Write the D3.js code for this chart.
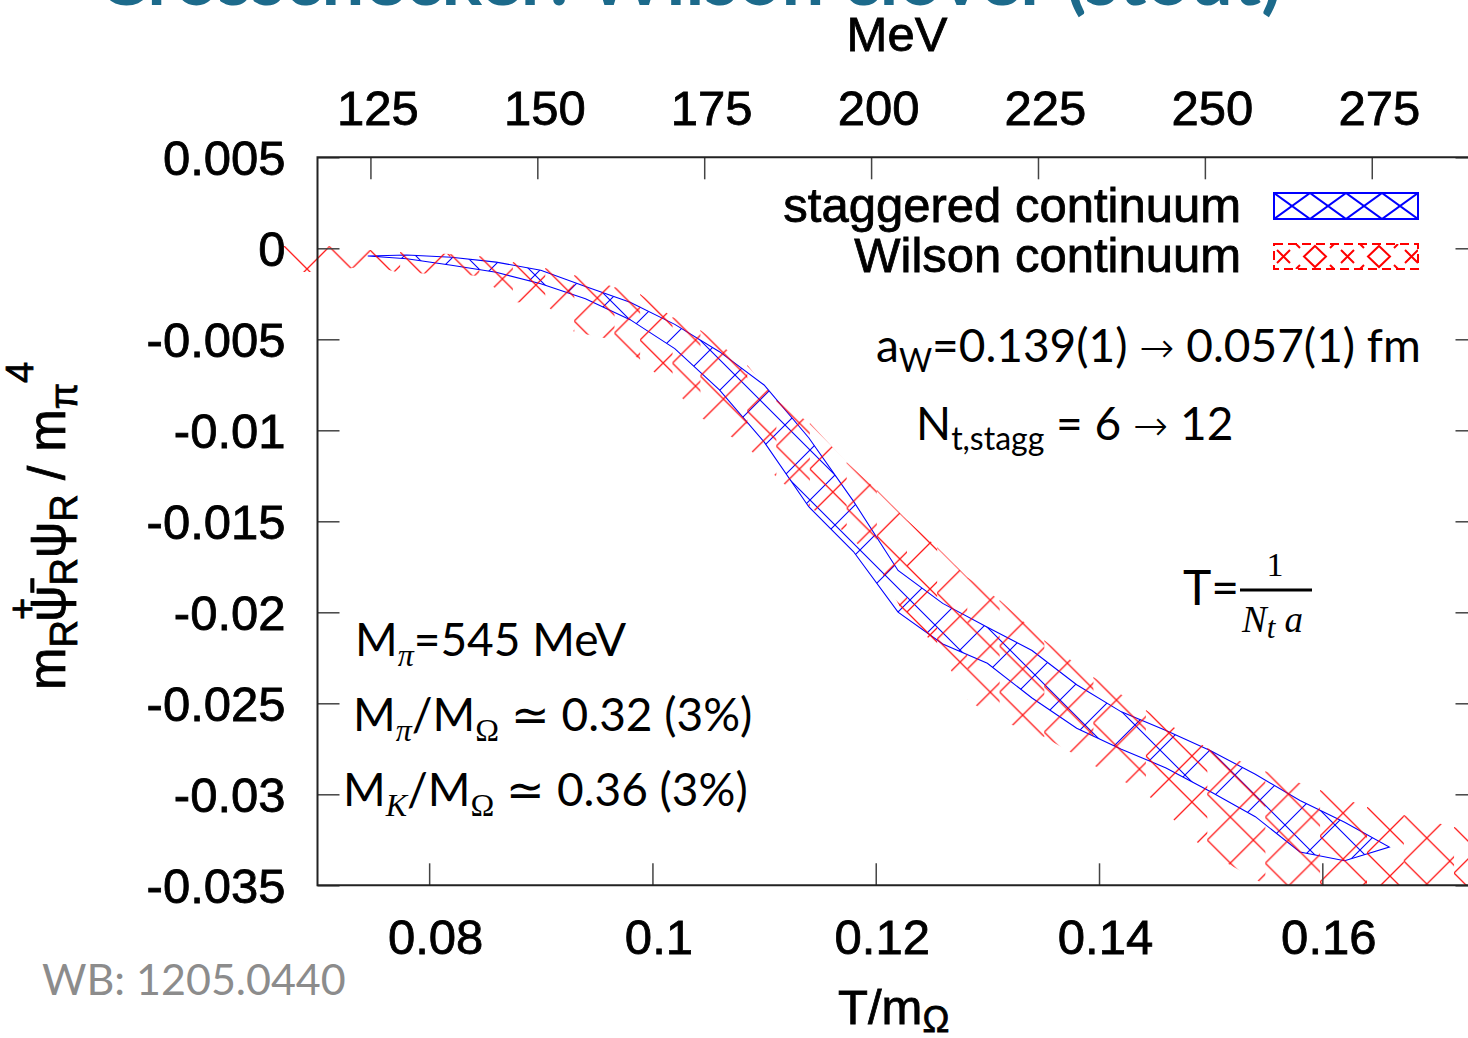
<!DOCTYPE html>
<html>
<head>
<meta charset="utf-8">
<script src="https://cdn.jsdelivr.net/npm/d3@7"></script>
<style>
  body { margin: 0; background: #fff; }
  svg { display: block; }
</style>
</head>
<body>
<div id="chart"></div>
<script>
// staggered continuum band: T/m_Omega, lower and upper edge
const stagT  = [0.0745, 0.078, 0.082, 0.086, 0.09, 0.094, 0.098, 0.102, 0.106, 0.11, 0.114, 0.118,
                0.122, 0.126, 0.13, 0.134, 0.138, 0.142, 0.146, 0.15, 0.154, 0.158, 0.162, 0.166];
const stagHi = [-0.00042, -0.00037, -0.00049, -0.00076, -0.00121, -0.0021, -0.00296, -0.00418, -0.00568, -0.00751, -0.01041, -0.01389,
                -0.0177, -0.01951, -0.02082, -0.0221, -0.02398, -0.02547, -0.0265, -0.02761, -0.0289, -0.03034, -0.03153, -0.0329];
const stagLo = [-0.00042, -0.00057, -0.00093, -0.00132, -0.00195, -0.00277, -0.00392, -0.00551, -0.00778, -0.01064, -0.0142, -0.01666,
                -0.01999, -0.02174, -0.0228, -0.02471, -0.02637, -0.02752, -0.02855, -0.02986, -0.03123, -0.03317, -0.03365, -0.0329];

// Wilson continuum band
const wilT  = [0.067, 0.071, 0.0747, 0.0774, 0.0819, 0.0845, 0.0875, 0.0904, 0.093, 0.0966, 0.0989, 0.1018, 0.1043, 0.1085, 0.1111, 0.1141,
               0.1174, 0.1201, 0.1228, 0.1255, 0.1282, 0.1311, 0.1351, 0.1395, 0.1442, 0.1497, 0.1549, 0.1598, 0.164, 0.1673, 0.1718, 0.175];
const wilHi = [0.00013, 0.00013, -0.00009, -0.0002, -0.00031, -0.00042, -0.00075, -0.00108, -0.00147, -0.00213, -0.00251, -0.00378, -0.00449, -0.00641, -0.00834, -0.0096,
               -0.01175, -0.01328, -0.01493, -0.01642, -0.01807, -0.01933, -0.02153, -0.02356, -0.02537, -0.02746, -0.02873, -0.02977, -0.0307, -0.03114, -0.0318, -0.03224];
const wilLo = [-0.0013, -0.0013, -0.00092, -0.00136, -0.00141, -0.00152, -0.00295, -0.00306, -0.0046, -0.00504, -0.00614, -0.00768, -0.00928, -0.01092, -0.01257, -0.01422,
               -0.01565, -0.0173, -0.02043, -0.02181, -0.02482, -0.02593, -0.02686, -0.0284, -0.02994, -0.03317, -0.03498, -0.0358, -0.03663, -0.03718, -0.03773, -0.03828];

const xTicks = [0.08, 0.1, 0.12, 0.14, 0.16];
const yTicks = [0.005, 0, -0.005, -0.01, -0.015, -0.02, -0.025, -0.03, -0.035];
const mevTicks = [125, 150, 175, 200, 225, 250, 275];
const mOmega = 1672.45;   // MeV, converts T/m_Omega to T
const legendNames = ["staggered continuum", "Wilson continuum"];

const W = 1468, H = 1038;
const plot = {left: 317.5, right: 1477.5, top: 157.3, bottom: 885.3};

const svg = d3.select("#chart").append("svg")
  .attr("width", W).attr("height", H)
  .style("font-family", "'Liberation Sans', Arial, sans-serif");
const defs = svg.append("defs");

const x = d3.scaleLinear().domain([0.07, 0.1739]).range([plot.left, plot.right]);
const y = d3.scaleLinear().domain([-0.035, 0.005]).range([plot.bottom, plot.top]);
const xMev = d3.scaleLinear().domain(x.domain().map(d => d * mOmega)).range(x.range());

function hatch(id, w, h, color, sw, tx, ty, d) {
  const p = defs.append("pattern").attr("id", id)
    .attr("patternUnits", "userSpaceOnUse")
    .attr("width", w).attr("height", h)
    .attr("patternTransform", "translate(" + tx + "," + ty + ")");
  p.append("path")
    .attr("d", d || ("M0,0L" + w + "," + h + "M" + w + ",0L0," + h))
    .attr("stroke", color).attr("stroke-width", sw).attr("fill", "none");
}

// title (only the bottom of it is visible)
svg.append("text")
  .attr("x", 1282).attr("y", 5)
  .attr("text-anchor", "end")
  .attr("font-family", "Lato, sans-serif").attr("font-weight", "bold")
  .attr("font-size", 76).attr("fill", "#1c6a8b")
  .text("Crosschecker: Wilson clover (stout)");

defs.append("clipPath").attr("id", "clip")
  .append("rect").attr("x", 270).attr("y", plot.top)
  .attr("width", W - 270).attr("height", plot.bottom - plot.top);

const data = svg.append("g").attr("clip-path", "url(#clip)");

// staggered band
hatch("hatchBlue", 50, 50, "#0000ff", 1.1, 10, 0);
data.append("path")
  .datum(d3.range(stagT.length))
  .attr("fill", "url(#hatchBlue)")
  .attr("stroke", "#0000ff")
  .attr("stroke-width", 1.1)
  .attr("d", d3.area()
    .x(i => x(stagT[i]))
    .y0(i => y(stagLo[i]))
    .y1(i => y(stagHi[i])));

// Wilson band, each piece hatched on its own
for (let i = 0; i < wilT.length - 1; i++) {
  hatch("hatchRed" + i, 46, 46, "#ff0000", 1.3, x(wilT[i]), y(wilHi[i]));
  data.append("path")
    .datum([i, i + 1])
    .attr("fill", "url(#hatchRed" + i + ")")
    .attr("opacity", 0.9)
    .attr("d", d3.area()
      .x(j => x(wilT[j]))
      .y0(j => y(wilLo[j]))
      .y1(j => y(wilHi[j])));
}

// axes
function styleAxis(g) {
  g.select(".domain").remove();
  g.selectAll(".tick line").attr("stroke", "#444").attr("stroke-width", 1.5);
  g.selectAll(".tick text").attr("fill", "#000")
    .attr("font-size", 49)
    .attr("stroke", "#000").attr("stroke-width", 0.8)
    .style("font-family", "'Liberation Sans', Arial, sans-serif");
}

svg.append("g")
  .attr("transform", "translate(" + plot.left + ",0)")
  .call(d3.axisLeft(y).tickValues(yTicks).tickSizeInner(-22).tickSizeOuter(0)
    .tickPadding(32).tickFormat(d => String(d)))
  .call(styleAxis)
  .selectAll(".tick text").attr("dy", "0.36em");

svg.append("g")
  .attr("transform", "translate(" + plot.right + ",0)")
  .call(d3.axisRight(y).tickValues(yTicks).tickSizeInner(-22).tickSizeOuter(0).tickFormat(""))
  .call(styleAxis);

svg.append("g")
  .attr("transform", "translate(0," + plot.bottom + ")")
  .call(d3.axisBottom(x).tickValues(xTicks).tickSizeInner(-22).tickSizeOuter(0)
    .tickPadding(34).tickFormat(d => String(d)))
  .call(styleAxis)
  .selectAll(".tick text").attr("dx", 6);

svg.append("g")
  .attr("transform", "translate(0," + plot.top + ")")
  .call(d3.axisTop(xMev).tickValues(mevTicks).tickSizeInner(-22).tickSizeOuter(0)
    .tickPadding(32).tickFormat(d => String(d)))
  .call(styleAxis)
  .selectAll(".tick text").attr("dx", 7);

// frame
svg.append("path")
  .attr("d", "M" + plot.left + "," + plot.top + "V" + plot.bottom + "H" + plot.right + "V" + plot.top + "Z")
  .attr("fill", "none").attr("stroke", "#222").attr("stroke-width", 2);

// axis titles
svg.append("text")
  .attr("x", 897).attr("y", 51).attr("text-anchor", "middle")
  .attr("font-size", 49).attr("stroke", "#000").attr("stroke-width", 0.8)
  .text("MeV");

const xt = svg.append("text")
  .attr("x", 838).attr("y", 1024)
  .attr("font-size", 49).attr("stroke", "#000").attr("stroke-width", 0.8);
xt.append("tspan").text("T/m");
xt.append("tspan").attr("font-size", 36).attr("dy", 8).text("Ω");

const yt = svg.append("text")
  .attr("transform", "translate(65,690) rotate(-90)")
  .attr("font-size", 51).attr("stroke", "#000").attr("stroke-width", 0.8);
yt.append("tspan").text("m");
yt.append("tspan").attr("font-size", 38).attr("dy", 12).text("R");
yt.append("tspan").attr("font-size", 38).attr("dy", -42).text("+");
yt.append("tspan").attr("dx", -24).attr("dy", 30).text("ψ\u0304");
yt.append("tspan").attr("font-size", 38).attr("dy", 12).text("R");
yt.append("tspan").attr("dy", -12).text("ψ");
yt.append("tspan").attr("font-size", 38).attr("dy", 12).text("R");
yt.append("tspan").attr("dy", -12).text(" / m");
yt.append("tspan").attr("font-size", 38).attr("dy", 12).text("π");
yt.append("tspan").attr("font-size", 38).attr("dy", -44).text("4");

// legend
const legend = svg.append("g");
legend.selectAll("text").data(legendNames).join("text")
  .attr("x", 1241).attr("y", (d, i) => 222 + i * 50)
  .attr("text-anchor", "end")
  .attr("font-size", 49).attr("stroke", "#000").attr("stroke-width", 0.8)
  .text(d => d);

hatch("legBlue", 36, 26, "#0000ff", 2, 1274, 193);
legend.append("rect")
  .attr("x", 1274).attr("y", 193).attr("width", 144).attr("height", 26)
  .attr("fill", "url(#legBlue)").attr("stroke", "#0000ff").attr("stroke-width", 2);

hatch("legRed", 64, 25, "#ff0000", 2, 1274, 244,
  "M3,6L16,19M16,6L3,19M41,2L52,12.5L41,23L30,12.5Z M22,0L26,4M60,0L56,4M22,25L26,21M60,25L56,21");
legend.append("rect")
  .attr("x", 1274).attr("y", 244).attr("width", 144).attr("height", 25)
  .attr("fill", "url(#legRed)").attr("stroke", "#ff0000").attr("stroke-width", 2)
  .attr("stroke-dasharray", "9,5");

// annotations
const note = "Lato, 'Open Sans', sans-serif";
const mathFont = "'Liberation Serif', 'DejaVu Serif', serif";

function annot(xp, yp) {
  return svg.append("text").attr("x", xp).attr("y", yp)
    .attr("font-family", note).attr("font-size", 46).attr("fill", "#000")
    .attr("xml:space", "preserve");
}
function sub(t, s, italic, serif) {
  const ts = t.append("tspan").attr("font-size", 32).attr("dy", 10).text(s);
  if (italic) ts.attr("font-style", "italic");
  if (serif) ts.attr("font-family", mathFont);
  return ts;
}
function arrow(t) {
  t.append("tspan").attr("font-family", "'DejaVu Sans'").attr("font-size", 42).attr("font-weight", 200).text("→");
}

let t = annot(876, 362);
t.append("tspan").text("a");
sub(t, "W");
t.append("tspan").attr("dy", -10).text("=0.139(1) ");
arrow(t);
t.append("tspan").text(" 0.057(1) fm");

t = annot(916, 440);
t.append("tspan").text("N");
sub(t, "t,stagg");
t.append("tspan").attr("dy", -10).text(" = 6 ");
arrow(t);
t.append("tspan").text(" 12");

t = annot(1183, 605);
t.attr("font-size", 48).text("T=");
svg.append("line").attr("x1", 1240).attr("x2", 1312).attr("y1", 590).attr("y2", 590)
  .attr("stroke", "#000").attr("stroke-width", 3);
svg.append("text").attr("x", 1275).attr("y", 576).attr("text-anchor", "middle")
  .attr("font-family", mathFont).attr("font-size", 34).text("1");
t = svg.append("text").attr("x", 1242).attr("y", 632)
  .attr("font-family", mathFont).attr("font-style", "italic").attr("font-size", 37);
t.append("tspan").text("N");
t.append("tspan").attr("font-size", 31).attr("dy", 6).text("t");
t.append("tspan").attr("dy", -6).text(" a");

t = annot(355, 656);
t.append("tspan").text("M");
sub(t, "π", true, true);
t.append("tspan").attr("dy", -10).text("=545 MeV");

t = annot(353, 731);
t.append("tspan").text("M");
sub(t, "π", true, true);
t.append("tspan").attr("dy", -10).text("/M");
sub(t, "Ω", false, true);
t.append("tspan").attr("dy", -10).text(" ≃ 0.32 (3%)");

t = annot(343, 806);
t.append("tspan").text("M");
sub(t, "K", true, true);
t.append("tspan").attr("dy", -10).text("/M");
sub(t, "Ω", false, true);
t.append("tspan").attr("dy", -10).text(" ≃ 0.36 (3%)");

svg.append("text").attr("x", 42).attr("y", 995)
  .attr("font-family", note).attr("font-size", 43).attr("fill", "#8c8c8c")
  .text("WB: 1205.0440");
</script>
</body>
</html>
